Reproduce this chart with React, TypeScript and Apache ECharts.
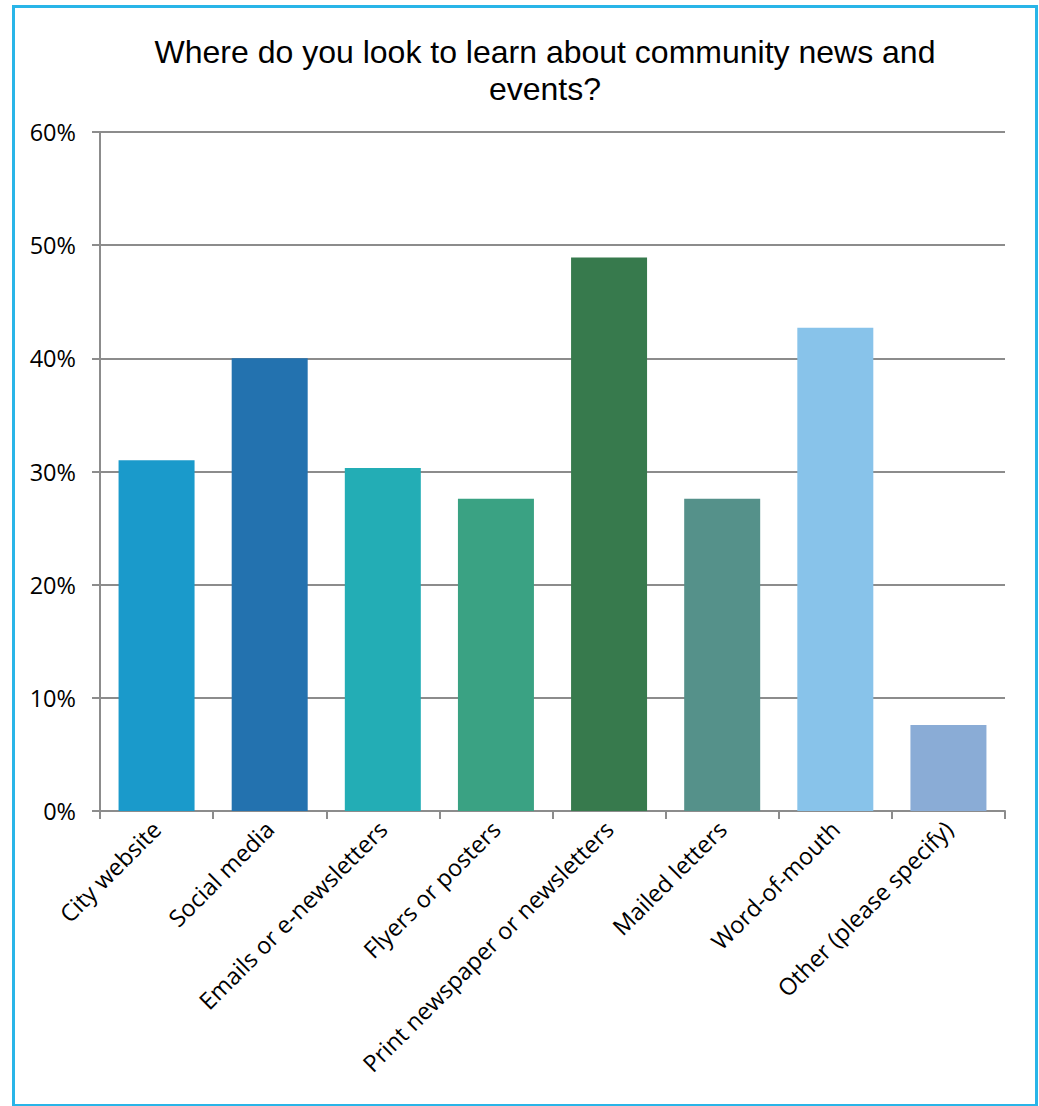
import React, { useEffect, useRef } from "react";
import * as echarts from "echarts";

const categories = [
  "City website",
  "Social media",
  "Emails or e-newsletters",
  "Flyers or posters",
  "Print newspaper or newsletters",
  "Mailed letters",
  "Word-of-mouth",
  "Other (please specify)",
];
const values = [31.0, 40.0, 30.3, 27.6, 48.9, 27.6, 42.7, 7.6];
const colors = ["#1A9ACB", "#2372AF", "#23ADB5", "#3AA283", "#377A4D", "#55918A", "#88C3EA", "#8AACD6"];
const titleText = "Where do you look to learn about community news and\nevents?";

export default function App() {
  const ref = useRef<HTMLDivElement>(null);
  useEffect(() => {
    if (!ref.current) return;
    const chart = echarts.init(ref.current, null, { renderer: "svg" });
    chart.setOption({
      animation: false,
      backgroundColor: "#ffffff",
      title: {
        text: titleText,
        left: 540,
        textAlign: "center",
        top: 28,
        textStyle: {
          fontFamily: "Liberation Sans, Arial",
          fontSize: 32,
          fontWeight: "normal",
          color: "#000",
          lineHeight: 37,
        },
      },
      grid: { left: 100, right: 34, top: 132, bottom: 295, containLabel: false },
      xAxis: {
        type: "category",
        data: categories,
        axisLine: { lineStyle: { color: "#8C8C8C", width: 2 } },
        axisTick: { show: true, length: 8, lineStyle: { color: "#8C8C8C", width: 2 } },
        axisLabel: {
          rotate: 45,
          interval: 0,
          fontFamily: "Open Sans, Calibri, sans-serif",
          fontSize: 23.5,
          color: "#000",
          margin: 14,
        },
      },
      yAxis: {
        type: "value",
        min: 0,
        max: 60,
        interval: 10,
        axisLine: { show: true, lineStyle: { color: "#8C8C8C", width: 2 } },
        axisTick: { show: true, length: 8, lineStyle: { color: "#8C8C8C", width: 2 } },
        splitLine: { show: true, lineStyle: { color: "#8C8C8C", width: 2 } },
        axisLabel: {
          formatter: "{value}%",
          fontFamily: "Open Sans, Calibri, sans-serif",
          fontSize: 23.5,
          color: "#000",
          margin: 24,
        },
      },
      series: [
        {
          type: "bar",
          data: values.map((v, i) => ({ value: v, itemStyle: { color: colors[i] } })),
          barWidth: 76,
        },
      ],
    });
    return () => chart.dispose();
  }, []);
  return (
    <div style={{ position: "absolute", left: 0, top: 0, width: 1039, height: 1106 }}>
      <div ref={ref} style={{ position: "absolute", left: 0, top: 0, width: 1039, height: 1106 }} />
      <div
        style={{
          position: "absolute",
          left: 12,
          top: 5,
          width: 1020,
          height: 1096,
          border: "3px solid #29B5E8",
          pointerEvents: "none",
        }}
      />
    </div>
  );
}
